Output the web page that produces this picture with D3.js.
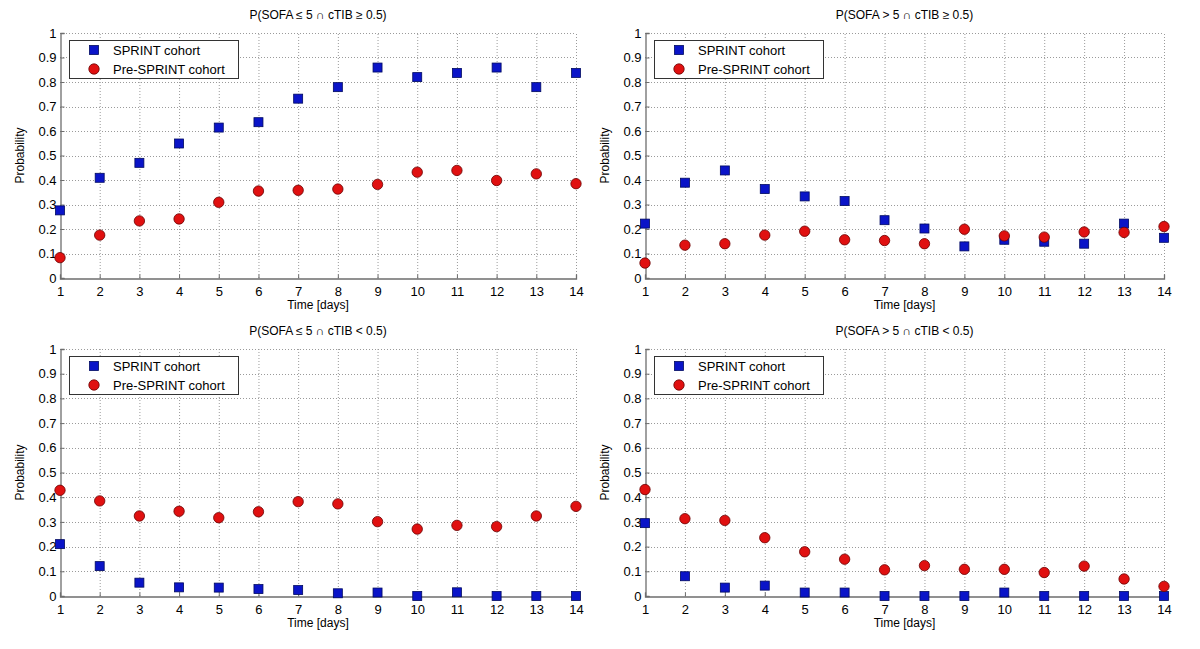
<!DOCTYPE html>
<html><head><meta charset="utf-8">
<script src="https://cdn.jsdelivr.net/npm/d3@7"></script>
<style>
body{margin:0;background:#fff;}
svg{display:block;font-family:"Liberation Sans",Arial,Helvetica,sans-serif;}
</style></head>
<body><svg id="c" width="1200" height="649"></svg>
<script>
const days = [1,2,3,4,5,6,7,8,9,10,11,12,13,14];
const yTicks = [0,0.1,0.2,0.3,0.4,0.5,0.6,0.7,0.8,0.9,1];
const yTickLabels = ["0","0.1","0.2","0.3","0.4","0.5","0.6","0.7","0.8","0.9","1"];
const seriesNames = ["SPRINT cohort","Pre-SPRINT cohort"];
const titles = [
  "P(SOFA \u2264 5 \u2229 cTIB \u2265 0.5)",
  "P(SOFA > 5 \u2229 cTIB \u2265 0.5)",
  "P(SOFA \u2264 5 \u2229 cTIB < 0.5)",
  "P(SOFA > 5 \u2229 cTIB < 0.5)"
];
const sprintTL = [0.276,0.409,0.470,0.549,0.614,0.636,0.732,0.779,0.859,0.820,0.837,0.859,0.779,0.837];
const preTL    = [0.083,0.175,0.233,0.241,0.309,0.355,0.358,0.363,0.382,0.432,0.439,0.398,0.425,0.385];
const sprintTR = [0.222,0.389,0.439,0.363,0.333,0.314,0.236,0.202,0.129,0.156,0.148,0.140,0.222,0.164];
const preTR    = [0.061,0.134,0.140,0.175,0.191,0.156,0.153,0.140,0.199,0.172,0.167,0.188,0.186,0.210];
const sprintBL = [0.210,0.121,0.054,0.035,0.034,0.028,0.024,0.011,0.014,0.000,0.015,0.000,0.000,0.000];
const preBL    = [0.428,0.385,0.324,0.343,0.317,0.341,0.382,0.373,0.301,0.271,0.286,0.281,0.324,0.363];
const sprintBR = [0.295,0.080,0.034,0.042,0.014,0.014,0.000,0.000,0.000,0.014,0.000,0.000,0.000,0.000];
const preBR    = [0.431,0.313,0.306,0.236,0.179,0.149,0.106,0.123,0.108,0.108,0.095,0.121,0.069,0.039];

const panels = [
  {title:titles[0], s:sprintTL, p:preTL, x0:60, x1:576, y0:278, y1:33},
  {title:titles[1], s:sprintTR, p:preTR, x0:645, x1:1164, y0:278, y1:33},
  {title:titles[2], s:sprintBL, p:preBL, x0:60, x1:576, y0:596, y1:349},
  {title:titles[3], s:sprintBR, p:preBR, x0:645, x1:1164, y0:596, y1:349}
];

const svg = d3.select("#c");
svg.append("rect").attr("width",1200).attr("height",649).attr("fill","#fff");

panels.forEach(P=>{
  const g = svg.append("g");
  const x = d3.scaleLinear().domain([1,14]).range([P.x0,P.x1]);
  const y = d3.scaleLinear().domain([0,1]).range([P.y0,P.y1]);
  // grid
  g.selectAll(".gx").data(days.slice(1)).join("line")
    .attr("x1",d=>x(d)+0.5).attr("x2",d=>x(d)+0.5).attr("y1",P.y0).attr("y2",P.y1)
    .attr("stroke","#9a9a9a").attr("stroke-width",1).attr("stroke-dasharray","1,2");
  g.selectAll(".gy").data(yTicks.slice(1)).join("line")
    .attr("x1",P.x0).attr("x2",P.x1).attr("y1",d=>Math.round(y(d))+0.5).attr("y2",d=>Math.round(y(d))+0.5)
    .attr("stroke","#9a9a9a").attr("stroke-width",1).attr("stroke-dasharray","1,2");
  // axes
  const xa = g.append("g").attr("transform",`translate(0,${P.y0+0.5})`)
    .call(d3.axisBottom(x).tickValues(days).tickSize(-4).tickPadding(8).tickFormat(d3.format("d")));
  const ya = g.append("g").attr("transform",`translate(${P.x0+0.5},0)`)
    .call(d3.axisLeft(y).tickValues(yTicks).tickSize(-4).tickPadding(4).tickFormat((d,i)=>yTickLabels[i]));
  [xa,ya].forEach(a=>{
    a.select(".domain").attr("stroke","#6e6e6e").attr("stroke-width",1.3);
    a.selectAll(".tick line").attr("stroke","#6e6e6e");
    a.selectAll(".tick text").attr("fill","#000").attr("font-size",13)
      .attr("font-family","Liberation Sans, Arial, sans-serif");
  });
  // titles and labels
  g.append("text").attr("x",(P.x0+P.x1)/2).attr("y",P.y1-14).attr("text-anchor","middle")
    .attr("font-size",12).text(P.title);
  g.append("text").attr("x",(P.x0+P.x1)/2).attr("y",P.y0+31).attr("text-anchor","middle")
    .attr("font-size",12).text("Time [days]");
  g.append("text").attr("transform",`translate(${P.x0-36},${(P.y0+P.y1)/2}) rotate(-90)`)
    .attr("text-anchor","middle").attr("font-size",12).text("Probability");
  // markers
  const sz = 9;
  g.selectAll(".sq").data(P.s).join("rect")
    .attr("x",(d,i)=>x(days[i])-sz/2).attr("y",d=>y(d)-sz/2).attr("width",sz).attr("height",sz)
    .attr("fill","#0a14c8").attr("stroke","#000a60").attr("stroke-width",0.8);
  g.selectAll(".ci").data(P.p).join("circle")
    .attr("cx",(d,i)=>x(days[i])).attr("cy",d=>y(d)).attr("r",5.2)
    .attr("fill","#e01010").attr("stroke","#6a0000").attr("stroke-width",0.8);
  // legend
  const lx = P.x0+9, ly = P.y1+7;
  const lg = g.append("g");
  lg.append("rect").attr("x",lx+0.5).attr("y",ly+0.5).attr("width",169).attr("height",38)
    .attr("fill","#fff").attr("stroke","#333").attr("stroke-width",1);
  lg.append("rect").attr("x",lx+25-sz/2).attr("y",ly+10-sz/2).attr("width",sz).attr("height",sz)
    .attr("fill","#0a14c8").attr("stroke","#000a60").attr("stroke-width",0.8);
  lg.append("circle").attr("cx",lx+25).attr("cy",ly+29).attr("r",5.2)
    .attr("fill","#e01010").attr("stroke","#6a0000").attr("stroke-width",0.8);
  lg.append("text").attr("x",lx+44).attr("y",ly+15).attr("font-size",13).text(seriesNames[0]);
  lg.append("text").attr("x",lx+44).attr("y",ly+34).attr("font-size",13).text(seriesNames[1]);
});
</script></body></html>
